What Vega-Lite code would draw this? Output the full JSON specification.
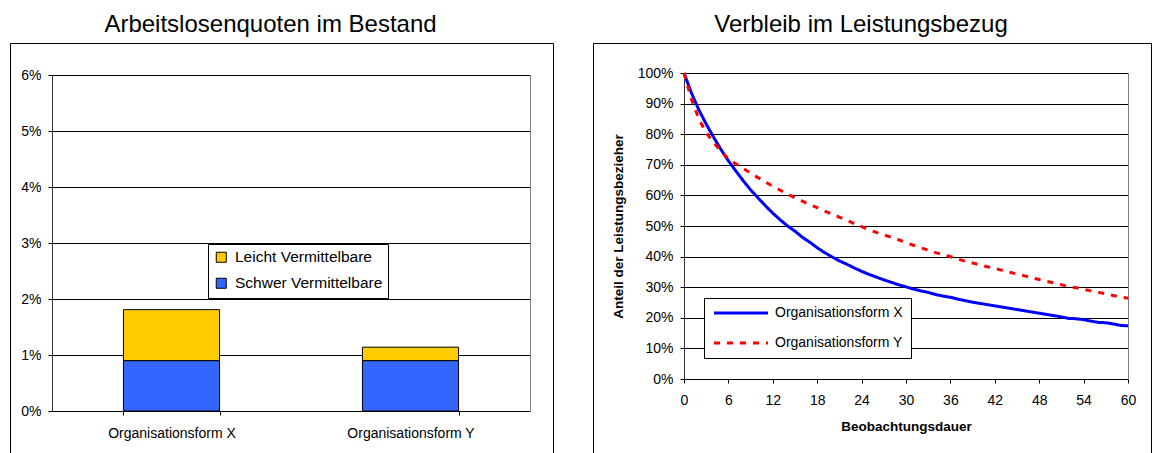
{
  "$schema": "https://vega.github.io/schema/vega-lite/v6.json",
  "padding": {"left": 9, "top": 12, "right": 0, "bottom": 0},
  "spacing": 40,
  "bounds": "flush",
  "resolve": {"scale": {"color": "independent", "strokeDash": "independent"}, "legend": {"color": "independent", "strokeDash": "independent"}},
  "config": {
    "font": "Liberation Sans",
    "view": {"stroke": "#000", "strokeWidth": 1},
    "axis": {"labelFont": "Liberation Sans", "labelFontSize": 14, "labelColor": "#000", "domainColor": "#000", "tickColor": "#000", "tickSize": 4, "gridColor": "#000", "gridOpacity": 1, "titleFont": "Liberation Sans", "titleColor": "#000"},
    "legend": {"labelFont": "Liberation Sans", "labelColor": "#000"},
    "title": {"font": "Liberation Sans", "fontSize": 24, "fontWeight": "normal", "color": "#000"}
  },
  "hconcat": [
    {
      "width": 543,
      "height": 411,
      "title": {"text": "Arbeitslosenquoten im Bestand", "anchor": "middle", "offset": 6, "dx": -11},
      "data": {"values": [
        {"form": "Organisationsform X", "group": "Schwer Vermittelbare", "quote": 0.009},
        {"form": "Organisationsform X", "group": "Leicht Vermittelbare", "quote": 0.0091},
        {"form": "Organisationsform Y", "group": "Schwer Vermittelbare", "quote": 0.009},
        {"form": "Organisationsform Y", "group": "Leicht Vermittelbare", "quote": 0.0024}
      ]},
      "resolve": {"axis": {"y": "independent"}},
      "layer": [
        {
          "mark": {"type": "bar", "stroke": "#000", "strokeWidth": 1},
          "encoding": {
            "x": {"field": "form", "type": "nominal", "sort": null,
              "scale": {"range": [42, 520], "paddingInner": 0.598, "paddingOuter": 0.299},
              "axis": {"title": null, "orient": "bottom", "offset": -43, "labelAngle": 0, "tickBand": "extent", "labelPadding": 11, "grid": false, "labelFontSize": 14}},
            "y": {"field": "quote", "type": "quantitative", "stack": "zero",
              "scale": {"domain": [0, 0.06], "range": [368, 32], "nice": false, "zero": true},
              "axis": {"title": null, "offset": -42, "values": [0, 0.01, 0.02, 0.03, 0.04, 0.05, 0.06], "format": ".0%", "grid": true, "labelPadding": 7, "domainColor": "#333"}},
            "color": {"field": "group", "type": "nominal",
              "scale": {"domain": ["Leicht Vermittelbare", "Schwer Vermittelbare"], "range": ["#FFCC00", "#3366FF"]},
              "legend": {"title": null, "orient": "none", "legendX": 198, "legendY": 201, "strokeColor": "#000", "fillColor": "#fff", "padding": 5.5, "labelFontSize": 15.5, "labelOffset": 6, "rowPadding": 9, "symbolType": "square", "symbolSize": 100, "symbolStrokeColor": "#000", "symbolStrokeWidth": 1}},
            "order": {"field": "group", "sort": "descending"}
          }
        },
        {
          "data": {"values": [{}]},
          "mark": {"type": "rule", "strokeOpacity": 0},
          "encoding": {
            "y": {"datum": 0, "type": "quantitative",
              "axis": {"orient": "right", "offset": -23, "labels": false, "ticks": false, "grid": false, "title": null, "domainColor": "#808080"}}
          }
        }
      ]
    },
    {
      "width": 558,
      "height": 411,
      "title": {"text": "Verbleib im Leistungsbezug", "anchor": "middle", "offset": 6, "dx": -11},
      "resolve": {"axis": {"y": "independent"}},
      "layer": [
        {
          "data": {"values": [
            {"form": "Organisationsform X", "monat": 0, "anteil": 1.0},
            {"form": "Organisationsform X", "monat": 1, "anteil": 0.935},
            {"form": "Organisationsform X", "monat": 2, "anteil": 0.88},
            {"form": "Organisationsform X", "monat": 3, "anteil": 0.833},
            {"form": "Organisationsform X", "monat": 4, "anteil": 0.79},
            {"form": "Organisationsform X", "monat": 5, "anteil": 0.75},
            {"form": "Organisationsform X", "monat": 6, "anteil": 0.713},
            {"form": "Organisationsform X", "monat": 7, "anteil": 0.68},
            {"form": "Organisationsform X", "monat": 8, "anteil": 0.648},
            {"form": "Organisationsform X", "monat": 9, "anteil": 0.618},
            {"form": "Organisationsform X", "monat": 10, "anteil": 0.592},
            {"form": "Organisationsform X", "monat": 11, "anteil": 0.566},
            {"form": "Organisationsform X", "monat": 12, "anteil": 0.542},
            {"form": "Organisationsform X", "monat": 13, "anteil": 0.52},
            {"form": "Organisationsform X", "monat": 14, "anteil": 0.5},
            {"form": "Organisationsform X", "monat": 15, "anteil": 0.483},
            {"form": "Organisationsform X", "monat": 16, "anteil": 0.463},
            {"form": "Organisationsform X", "monat": 17, "anteil": 0.447},
            {"form": "Organisationsform X", "monat": 18, "anteil": 0.429},
            {"form": "Organisationsform X", "monat": 19, "anteil": 0.413},
            {"form": "Organisationsform X", "monat": 20, "anteil": 0.399},
            {"form": "Organisationsform X", "monat": 21, "anteil": 0.386},
            {"form": "Organisationsform X", "monat": 22, "anteil": 0.375},
            {"form": "Organisationsform X", "monat": 23, "anteil": 0.363},
            {"form": "Organisationsform X", "monat": 24, "anteil": 0.352},
            {"form": "Organisationsform X", "monat": 25, "anteil": 0.342},
            {"form": "Organisationsform X", "monat": 26, "anteil": 0.333},
            {"form": "Organisationsform X", "monat": 27, "anteil": 0.324},
            {"form": "Organisationsform X", "monat": 28, "anteil": 0.316},
            {"form": "Organisationsform X", "monat": 29, "anteil": 0.308},
            {"form": "Organisationsform X", "monat": 30, "anteil": 0.301},
            {"form": "Organisationsform X", "monat": 31, "anteil": 0.294},
            {"form": "Organisationsform X", "monat": 32, "anteil": 0.288},
            {"form": "Organisationsform X", "monat": 33, "anteil": 0.283},
            {"form": "Organisationsform X", "monat": 34, "anteil": 0.276},
            {"form": "Organisationsform X", "monat": 35, "anteil": 0.271},
            {"form": "Organisationsform X", "monat": 36, "anteil": 0.267},
            {"form": "Organisationsform X", "monat": 37, "anteil": 0.261},
            {"form": "Organisationsform X", "monat": 38, "anteil": 0.256},
            {"form": "Organisationsform X", "monat": 39, "anteil": 0.251},
            {"form": "Organisationsform X", "monat": 40, "anteil": 0.247},
            {"form": "Organisationsform X", "monat": 41, "anteil": 0.243},
            {"form": "Organisationsform X", "monat": 42, "anteil": 0.239},
            {"form": "Organisationsform X", "monat": 43, "anteil": 0.235},
            {"form": "Organisationsform X", "monat": 44, "anteil": 0.231},
            {"form": "Organisationsform X", "monat": 45, "anteil": 0.227},
            {"form": "Organisationsform X", "monat": 46, "anteil": 0.223},
            {"form": "Organisationsform X", "monat": 47, "anteil": 0.219},
            {"form": "Organisationsform X", "monat": 48, "anteil": 0.215},
            {"form": "Organisationsform X", "monat": 49, "anteil": 0.211},
            {"form": "Organisationsform X", "monat": 50, "anteil": 0.207},
            {"form": "Organisationsform X", "monat": 51, "anteil": 0.203},
            {"form": "Organisationsform X", "monat": 52, "anteil": 0.198},
            {"form": "Organisationsform X", "monat": 53, "anteil": 0.197},
            {"form": "Organisationsform X", "monat": 54, "anteil": 0.194},
            {"form": "Organisationsform X", "monat": 55, "anteil": 0.189},
            {"form": "Organisationsform X", "monat": 56, "anteil": 0.185},
            {"form": "Organisationsform X", "monat": 57, "anteil": 0.184},
            {"form": "Organisationsform X", "monat": 58, "anteil": 0.18},
            {"form": "Organisationsform X", "monat": 59, "anteil": 0.175},
            {"form": "Organisationsform X", "monat": 60, "anteil": 0.174},
            {"form": "Organisationsform Y", "monat": 0, "anteil": 1.0},
            {"form": "Organisationsform Y", "monat": 1, "anteil": 0.915},
            {"form": "Organisationsform Y", "monat": 2, "anteil": 0.85},
            {"form": "Organisationsform Y", "monat": 3, "anteil": 0.805},
            {"form": "Organisationsform Y", "monat": 4, "anteil": 0.773},
            {"form": "Organisationsform Y", "monat": 5, "anteil": 0.743},
            {"form": "Organisationsform Y", "monat": 6, "anteil": 0.72},
            {"form": "Organisationsform Y", "monat": 7, "anteil": 0.703},
            {"form": "Organisationsform Y", "monat": 8, "anteil": 0.688},
            {"form": "Organisationsform Y", "monat": 9, "anteil": 0.673},
            {"form": "Organisationsform Y", "monat": 10, "anteil": 0.658},
            {"form": "Organisationsform Y", "monat": 11, "anteil": 0.644},
            {"form": "Organisationsform Y", "monat": 12, "anteil": 0.63},
            {"form": "Organisationsform Y", "monat": 13, "anteil": 0.617},
            {"form": "Organisationsform Y", "monat": 14, "anteil": 0.604},
            {"form": "Organisationsform Y", "monat": 15, "anteil": 0.592},
            {"form": "Organisationsform Y", "monat": 16, "anteil": 0.581},
            {"form": "Organisationsform Y", "monat": 17, "anteil": 0.57},
            {"form": "Organisationsform Y", "monat": 18, "anteil": 0.56},
            {"form": "Organisationsform Y", "monat": 19, "anteil": 0.549},
            {"form": "Organisationsform Y", "monat": 20, "anteil": 0.539},
            {"form": "Organisationsform Y", "monat": 21, "anteil": 0.529},
            {"form": "Organisationsform Y", "monat": 22, "anteil": 0.519},
            {"form": "Organisationsform Y", "monat": 23, "anteil": 0.508},
            {"form": "Organisationsform Y", "monat": 24, "anteil": 0.498},
            {"form": "Organisationsform Y", "monat": 25, "anteil": 0.488},
            {"form": "Organisationsform Y", "monat": 26, "anteil": 0.479},
            {"form": "Organisationsform Y", "monat": 27, "anteil": 0.471},
            {"form": "Organisationsform Y", "monat": 28, "anteil": 0.463},
            {"form": "Organisationsform Y", "monat": 29, "anteil": 0.455},
            {"form": "Organisationsform Y", "monat": 30, "anteil": 0.446},
            {"form": "Organisationsform Y", "monat": 31, "anteil": 0.437},
            {"form": "Organisationsform Y", "monat": 32, "anteil": 0.429},
            {"form": "Organisationsform Y", "monat": 33, "anteil": 0.421},
            {"form": "Organisationsform Y", "monat": 34, "anteil": 0.413},
            {"form": "Organisationsform Y", "monat": 35, "anteil": 0.407},
            {"form": "Organisationsform Y", "monat": 36, "anteil": 0.4},
            {"form": "Organisationsform Y", "monat": 37, "anteil": 0.392},
            {"form": "Organisationsform Y", "monat": 38, "anteil": 0.385},
            {"form": "Organisationsform Y", "monat": 39, "anteil": 0.379},
            {"form": "Organisationsform Y", "monat": 40, "anteil": 0.373},
            {"form": "Organisationsform Y", "monat": 41, "anteil": 0.367},
            {"form": "Organisationsform Y", "monat": 42, "anteil": 0.361},
            {"form": "Organisationsform Y", "monat": 43, "anteil": 0.355},
            {"form": "Organisationsform Y", "monat": 44, "anteil": 0.349},
            {"form": "Organisationsform Y", "monat": 45, "anteil": 0.343},
            {"form": "Organisationsform Y", "monat": 46, "anteil": 0.337},
            {"form": "Organisationsform Y", "monat": 47, "anteil": 0.331},
            {"form": "Organisationsform Y", "monat": 48, "anteil": 0.325},
            {"form": "Organisationsform Y", "monat": 49, "anteil": 0.319},
            {"form": "Organisationsform Y", "monat": 50, "anteil": 0.314},
            {"form": "Organisationsform Y", "monat": 51, "anteil": 0.308},
            {"form": "Organisationsform Y", "monat": 52, "anteil": 0.302},
            {"form": "Organisationsform Y", "monat": 53, "anteil": 0.298},
            {"form": "Organisationsform Y", "monat": 54, "anteil": 0.293},
            {"form": "Organisationsform Y", "monat": 55, "anteil": 0.288},
            {"form": "Organisationsform Y", "monat": 56, "anteil": 0.283},
            {"form": "Organisationsform Y", "monat": 57, "anteil": 0.278},
            {"form": "Organisationsform Y", "monat": 58, "anteil": 0.273},
            {"form": "Organisationsform Y", "monat": 59, "anteil": 0.268},
            {"form": "Organisationsform Y", "monat": 60, "anteil": 0.264}
          ]},
          "mark": {"type": "line", "strokeWidth": 3},
          "encoding": {
            "x": {"field": "monat", "type": "quantitative",
              "scale": {"domain": [0, 60], "range": [91, 535], "nice": false},
              "axis": {"title": "Beobachtungsdauer", "titleFontWeight": "bold", "titleFontSize": 13.5, "titlePadding": 12, "offset": -75, "values": [0, 6, 12, 18, 24, 30, 36, 42, 48, 54, 60], "labelPadding": 10, "grid": false, "labelFlush": false}},
            "y": {"field": "anteil", "type": "quantitative",
              "scale": {"domain": [0, 1], "range": [336, 30], "nice": false},
              "axis": {"title": "Anteil der Leistungsbezieher", "titleFontWeight": "bold", "titleFontSize": 13.5, "titlePadding": 12, "offset": -91, "values": [0, 0.1, 0.2, 0.3, 0.4, 0.5, 0.6, 0.7, 0.8, 0.9, 1], "format": ".0%", "grid": true, "labelPadding": 7, "domainColor": "#333"}},
            "color": {"field": "form", "type": "nominal",
              "scale": {"domain": ["Organisationsform X", "Organisationsform Y"], "range": ["#0000FF", "#FF0000"]},
              "legend": {"title": null, "orient": "none", "legendX": 111, "legendY": 255, "strokeColor": "#000", "fillColor": "#fff", "padding": 8, "labelFontSize": 14, "labelOffset": 49, "rowPadding": 16, "symbolType": "M-1,0H9.8", "symbolSize": 100, "symbolStrokeWidth": 3}},
            "strokeDash": {"field": "form", "type": "nominal",
              "scale": {"domain": ["Organisationsform X", "Organisationsform Y"], "range": [[1, 0], [6, 7]]},
              "legend": {"title": null, "orient": "none", "legendX": 111, "legendY": 255, "strokeColor": "#000", "fillColor": "#fff", "padding": 8, "labelFontSize": 14, "labelOffset": 49, "rowPadding": 16, "symbolType": "M-1,0H9.8", "symbolSize": 100, "symbolStrokeWidth": 3}}
          }
        },
        {
          "data": {"values": [{}]},
          "mark": {"type": "rule", "strokeOpacity": 0},
          "encoding": {
            "y": {"datum": 0, "type": "quantitative",
              "axis": {"orient": "right", "offset": -23, "labels": false, "ticks": false, "grid": false, "title": null, "domainColor": "#808080"}}
          }
        }
      ]
    }
  ]
}
